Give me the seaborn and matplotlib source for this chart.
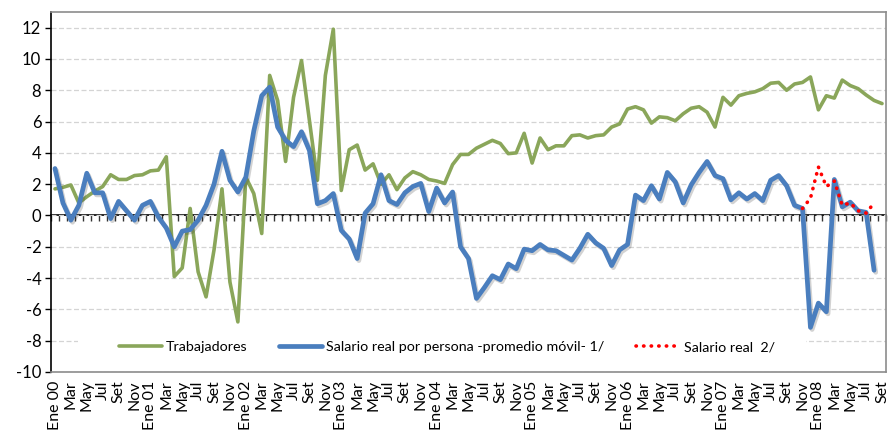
import numpy as np
import pandas as pd
import matplotlib
matplotlib.use("Agg")
import matplotlib.pyplot as plt
import matplotlib.patheffects as pe
from matplotlib.patches import Rectangle
import seaborn as sns

# ---------------- data ----------------
month_names = ["Ene", "Feb", "Mar", "Abr", "May", "Jun",
               "Jul", "Ago", "Set", "Oct", "Nov", "Dic"]
start_year = 2000
n_months = 105  # Ene 00 .. Set 08

trabajadores = [
    1.7, 1.8, 1.95, 0.8, 1.2, 1.55, 1.85, 2.6, 2.3, 2.3, 2.55, 2.6,
    2.85, 2.9, 3.75, -3.9, -3.35, 0.45, -3.6, -5.2, -2.2, 1.7, -4.25, -6.8,
    2.45, 1.4, -1.15, 8.95, 7.35, 3.45, 7.55, 9.9, 6.05, 2.25, 8.95, 11.9,
    1.6, 4.2, 4.5, 2.9, 3.3, 2.0, 2.6, 1.65, 2.4, 2.8, 2.6, 2.3,
    2.2, 2.05, 3.25, 3.9, 3.9, 4.3, 4.55, 4.8, 4.6, 3.95, 4.0, 5.25,
    3.35, 4.95, 4.2, 4.45, 4.45, 5.1, 5.15, 4.95, 5.1, 5.15, 5.65, 5.85,
    6.8, 6.95, 6.75, 5.9, 6.3, 6.25, 6.05, 6.5, 6.85, 6.95, 6.6, 5.65,
    7.55, 7.05, 7.65, 7.8, 7.9, 8.1, 8.45, 8.5, 8.0, 8.4, 8.5, 8.85,
    6.75, 7.65, 7.5, 8.65, 8.3, 8.1, 7.7, 7.35, 7.15,
]

salario_movil = [
    3.0, 0.8, -0.3, 0.65, 2.7, 1.45, 1.45, -0.2, 0.9, 0.3, -0.3, 0.65,
    0.9, -0.1, -0.8, -2.0, -1.0, -0.9, -0.3, 0.65, 2.0, 4.1, 2.25, 1.5,
    2.45, 5.4, 7.65, 8.2, 5.65, 4.8, 4.4, 5.35, 4.15, 0.75, 0.95, 1.4,
    -0.95, -1.5, -2.75, 0.15, 0.75, 2.6, 0.95, 0.7, 1.45, 1.85, 2.05, 0.25,
    1.75, 0.8, 1.5, -2.0, -2.75, -5.3, -4.6, -3.85, -4.1, -3.1, -3.4, -2.15,
    -2.25, -1.85, -2.2, -2.25, -2.55, -2.85, -2.1, -1.2, -1.75, -2.1, -3.2, -2.2,
    -1.85, 1.3, 0.95, 1.9, 1.05, 2.75, 2.15, 0.8, 1.95, 2.75, 3.45, 2.55,
    2.35, 1.0, 1.45, 1.05, 1.4, 0.95, 2.25, 2.55, 1.9, 0.65, 0.45, -7.15,
    -5.6, -6.15, 2.3, 0.55, 0.85, 0.3, 0.2, -3.5,
]

salario_real_start = 94  # Nov 07
salario_real = [0.45, 1.1, 3.1, 1.85, 2.2, 0.65, 0.8, 0.3, 0.15, 0.8]

labels_series = ["Trabajadores",
                 "Salario real por persona -promedio móvil- 1/",
                 "Salario real  2/"]

# ---------------- build frames ----------------
idx = np.arange(n_months)
month_labels = []
for i in idx:
    m = i % 12
    y = (start_year + i // 12) % 100
    month_labels.append(f"{month_names[m]} {y:02d}" if m == 0 else month_names[m])

df_t = pd.DataFrame({"x": idx[:len(trabajadores)], "y": trabajadores})
df_s = pd.DataFrame({"x": idx[:len(salario_movil)], "y": salario_movil})
df_r = pd.DataFrame({"x": idx[salario_real_start:salario_real_start + len(salario_real)],
                     "y": salario_real})

# ---------------- style ----------------
sns.set_theme(style="white")
plt.rcParams["font.family"] = ["Lato", "DejaVu Sans"]

GREEN = "#8aa65a"
BLUE = "#4a7ebe"
RED = "#ff0000"

fig = plt.figure(figsize=(8.88, 4.34), dpi=100)
ax = fig.add_axes([51 / 888, 1 - 372 / 434, 835 / 888, 360 / 434])

sns.lineplot(data=df_t, x="x", y="y", ax=ax, color=GREEN, lw=2.6,
             label=labels_series[0], zorder=3)
sns.lineplot(data=df_s, x="x", y="y", ax=ax, color=BLUE, lw=3.4,
             label=labels_series[1], zorder=4,
             path_effects=[pe.SimpleLineShadow(offset=(1.2, -1.5), alpha=0.22,
                                               shadow_color="#333333"),
                           pe.Normal()])
sns.lineplot(data=df_r, x="x", y="y", ax=ax, color=RED, lw=2.6,
             label=labels_series[2], zorder=5,
             linestyle=(0, (0.1, 2.0)), dash_capstyle="round")

ax.set_xlim(-0.5, n_months - 0.5)
ax.set_ylim(-10, 13)
ax.set_xlabel("")
ax.set_ylabel("")

ax.set_yticks(np.arange(-10, 13, 2))
ax.set_yticklabels([str(v) for v in range(-10, 13, 2)])
ax.yaxis.grid(True, color="#d4d4d4", linestyle=(0, (4, 2)), lw=0.9)
ax.set_axisbelow(True)

ax.set_xticks(idx[::2])
ax.set_xticklabels(month_labels[::2], rotation=90, va="top", ha="center")
ax.tick_params(axis="x", length=0, pad=6, labelsize=11.5, labelcolor="black")
ax.tick_params(axis="y", direction="out", length=4, width=1, color="black",
               labelsize=12, labelcolor="black", pad=3, left=True)

for side in ("top", "right", "bottom"):
    ax.spines[side].set_color("#8c8c8c")
    ax.spines[side].set_linewidth(1.2)
ax.spines["left"].set_color("black")
ax.spines["left"].set_linewidth(1.2)

# zero line with category tick marks
sec = ax.secondary_xaxis(10 / 23)
sec.set_xticks(np.arange(-0.5, n_months, 1))
sec.tick_params(axis="x", direction="out", length=4, width=1, color="#333333",
                labelbottom=False, labeltop=False)
for s in sec.spines.values():
    s.set_color("black")
    s.set_linewidth(1.2)

# white legend area (hides the gridline behind the legend)
ax.add_patch(Rectangle((0.032, 0.028), 0.872, 0.083, transform=ax.transAxes,
                       facecolor="white", edgecolor="none", zorder=2))

leg = ax.legend(loc="center", bbox_to_anchor=(0.474, 0.069), ncol=3,
                frameon=False, fontsize=10.3, handlelength=3.0,
                columnspacing=2.2, handletextpad=0.3, borderpad=0.4)
for t in leg.get_texts():
    t.set_color("black")
for h in leg.legend_handles:
    h.set_path_effects([])
leg.set_zorder(6)

fig.savefig("out.png", dpi=100)
